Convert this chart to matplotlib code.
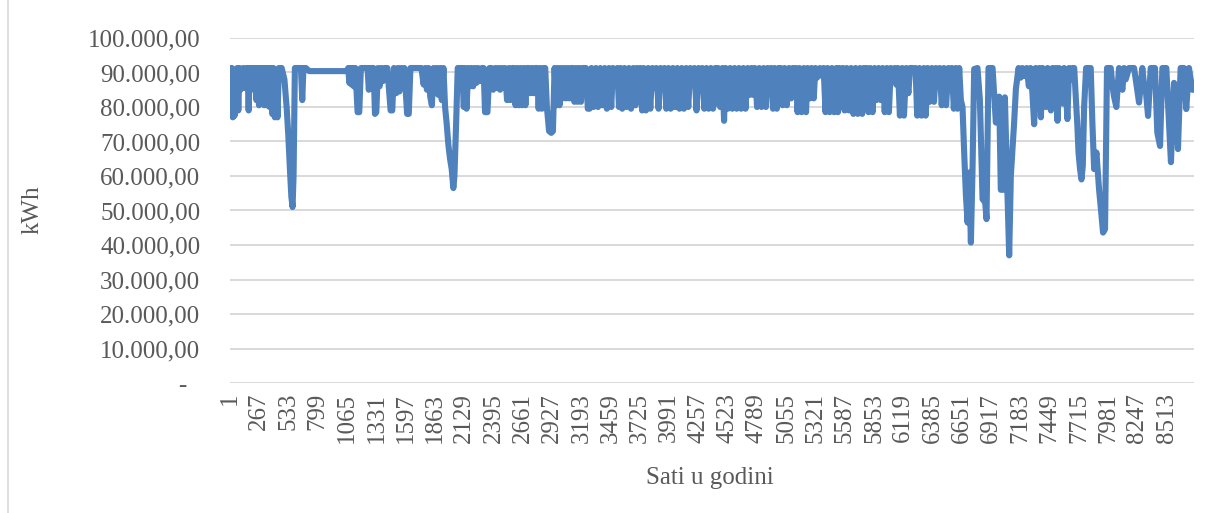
import matplotlib
matplotlib.use("Agg")
import matplotlib.pyplot as plt
from matplotlib.lines import Line2D

# hourly consumption as (hour, kWh) turning points
q1 = [(1, 91300), (10, 80500), (18, 91300), (26, 77000), (34, 90000), (42, 77500), (50, 88000),
      (58, 80500), (66, 91300), (76, 79000), (86, 91300), (96, 85000), (108, 86000), (120, 91300),
      (134, 85500), (150, 91300), (160, 91300), (170, 79000), (180, 91300), (192, 85000), (204, 91300),
      (216, 85500), (228, 91300), (240, 82000), (252, 91300), (264, 80500), (276, 91300), (288, 81000),
      (300, 91300), (312, 80500), (324, 91300), (336, 80500), (348, 91300), (360, 80000), (372, 91300),
      (384, 78000), (396, 91300), (408, 77000), (420, 88000), (432, 77000), (444, 91300), (470, 91300),
      (495, 88000), (515, 80000), (530, 72000), (545, 62000), (558, 54000), (569, 51000), (578, 60000),
      (590, 91300), (645, 91300), (657, 82000), (668, 91300), (690, 91300), (720, 90400), (1060, 90400),
      (1075, 91300), (1085, 87000), (1095, 91300), (1105, 86500), (1115, 91300), (1125, 86000),
      (1140, 91300), (1160, 78500), (1175, 78500), (1190, 91300), (1250, 91300), (1262, 85000),
      (1275, 91300), (1305, 91300), (1318, 78000), (1330, 78500), (1345, 91300), (1360, 86000),
      (1375, 91300), (1390, 87500), (1405, 91300), (1430, 91300), (1460, 79000), (1475, 79000),
      (1490, 91300), (1510, 84000), (1525, 91300), (1540, 84500), (1555, 91300), (1570, 86000),
      (1585, 91300), (1610, 78000), (1625, 78000), (1640, 91300), (1740, 91300), (1760, 86500),
      (1775, 91300), (1790, 85000), (1805, 91300), (1820, 83000), (1835, 80500), (1850, 91300),
      (1865, 84000), (1880, 91300), (1895, 83500), (1910, 91300), (1925, 82000), (1940, 91300),
      (1955, 80000), (1970, 75000), (1985, 69000), (2000, 65000), (2015, 62000), (2030, 56500),
      (2040, 60000), (2055, 75000), (2070, 91300), (2110, 91300), (2125, 80000), (2135, 91300),
      (2150, 79500)]

q2 = [(2165, 91300), (2180, 86000), (2195, 91300), (2210, 86000), (2225, 91300), (2240, 87000),
      (2255, 91300), (2270, 87500), (2290, 91300), (2305, 91300), (2318, 78500), (2340, 78500),
      (2358, 91300), (2375, 91300), (2392, 85000), (2410, 91300), (2425, 85500), (2440, 91300),
      (2455, 85000), (2470, 91300), (2485, 85500), (2500, 91300), (2518, 82000), (2535, 91300),
      (2550, 82000), (2565, 91300), (2580, 91300), (2595, 80500), (2610, 91300), (2625, 80500),
      (2640, 91300), (2655, 80500), (2670, 91300), (2685, 80500), (2700, 91300), (2715, 91300),
      (2730, 84000), (2745, 91300), (2760, 84000), (2775, 91300), (2790, 91300), (2805, 79500),
      (2820, 91300), (2835, 79500), (2850, 91300), (2865, 91300), (2880, 80000), (2900, 73000),
      (2920, 72500), (2935, 73000), (2950, 91300), (2965, 80500), (2980, 91300), (2995, 80500),
      (3010, 91300), (3025, 82500), (3040, 91300), (3055, 82500), (3070, 91300), (3085, 82500),
      (3100, 91300), (3115, 91300), (3130, 81500), (3145, 91300), (3160, 81500), (3175, 91300),
      (3190, 81500), (3205, 91300), (3235, 91300), (3252, 79500), (3268, 79500), (3285, 91300),
      (3305, 80000), (3325, 91300), (3345, 80000), (3365, 91300), (3385, 80500), (3405, 91300),
      (3425, 79500), (3445, 91300), (3465, 80000), (3480, 91300), (3488, 88000), (3512, 88000),
      (3520, 91300), (3535, 80000), (3550, 91300), (3565, 79500), (3585, 91300), (3605, 80000),
      (3625, 91300), (3645, 79500), (3665, 91300), (3685, 80500), (3698, 91300), (3704, 86500),
      (3722, 86500), (3728, 91300), (3745, 79000), (3760, 91300), (3780, 79000), (3800, 91300),
      (3820, 79500), (3838, 91300), (3846, 85500), (3866, 85500), (3874, 91300), (3895, 79500),
      (3912, 91300), (3920, 86500), (3940, 86500), (3948, 91300), (3965, 79500), (3985, 91300),
      (4005, 79500), (4025, 91300), (4045, 80000), (4065, 91300), (4085, 79500), (4105, 91300),
      (4125, 79500), (4145, 91300), (4165, 80000), (4182, 91300), (4192, 87500), (4212, 87500),
      (4220, 91300), (4240, 79000), (4258, 91300), (4266, 85500), (4284, 85500), (4292, 91300),
      (4310, 79500), (4330, 91300)]

q3 = [(4350, 79500), (4370, 91300), (4390, 79500), (4410, 91300), (4421, 81000), (4435, 91300),
      (4455, 80000), (4475, 91300), (4490, 76000), (4505, 91300), (4525, 79500), (4545, 91300),
      (4565, 79500), (4585, 91300), (4605, 79500), (4625, 91300), (4645, 79500), (4665, 91300),
      (4685, 79500), (4705, 91300), (4722, 83500), (4740, 91300), (4755, 83500), (4770, 91300),
      (4790, 80000), (4810, 91300), (4830, 80000), (4850, 91300), (4870, 80000), (4886, 91300),
      (4894, 89500), (4910, 89500), (4918, 91300), (4935, 79500), (4950, 91300), (4970, 79500),
      (4985, 91300), (4995, 85500), (5005, 91300), (5022, 80500), (5040, 91300), (5060, 80500),
      (5080, 91300), (5100, 82500), (5115, 91300), (5121, 88500), (5137, 88500), (5143, 91300),
      (5158, 78500), (5175, 91300), (5195, 78500), (5215, 91300), (5235, 78500), (5250, 91300),
      (5268, 82500), (5285, 91300), (5305, 82500), (5320, 91300), (5335, 88500), (5360, 91300),
      (5380, 89000), (5395, 91300), (5412, 78500), (5430, 91300), (5450, 78500), (5470, 91300),
      (5490, 78500), (5510, 91300), (5525, 78500), (5538, 91300), (5546, 85500), (5562, 85500),
      (5570, 91300), (5585, 79000), (5605, 91300), (5625, 79000), (5645, 91300), (5665, 78000),
      (5685, 91300), (5705, 78000), (5725, 91300), (5745, 78000), (5760, 91300), (5766, 88000),
      (5782, 88000), (5788, 91300), (5803, 78500), (5820, 91300), (5840, 78500), (5858, 91300),
      (5875, 82000), (5895, 91300), (5915, 82000), (5932, 91300), (5950, 78500), (5970, 91300),
      (5988, 78500), (6005, 91300), (6022, 87500), (6040, 91300), (6055, 86500), (6070, 91300),
      (6088, 77500), (6108, 91300), (6125, 77500), (6145, 91300), (6165, 84000), (6180, 91300),
      (6200, 91300), (6215, 90500), (6230, 91300), (6245, 77500), (6265, 91300), (6285, 77500),
      (6305, 91300), (6322, 77500), (6340, 91300), (6358, 81500), (6378, 91300), (6398, 81500),
      (6415, 91300), (6432, 86000), (6450, 91300), (6468, 80500), (6488, 91300), (6508, 80500),
      (6528, 91300), (6545, 85000)]

q4 = [(6560, 91300), (6578, 79500), (6595, 91300), (6612, 79500), (6627, 91300), (6642, 82000),
      (6657, 80000), (6673, 66000), (6688, 54300), (6703, 46500), (6718, 61000), (6733, 40700),
      (6748, 62000), (6763, 91000), (6793, 91300), (6815, 82000), (6839, 53300), (6863, 52300),
      (6875, 47500), (6893, 91300), (6930, 91300), (6960, 75500), (6990, 83000), (7005, 56000),
      (7027, 56000), (7042, 82800), (7060, 61000), (7081, 37000), (7096, 60000), (7126, 75500),
      (7142, 85200), (7166, 91300), (7185, 88500), (7200, 91300), (7220, 89000), (7240, 91300),
      (7260, 86000), (7275, 91300), (7292, 84000), (7308, 75000), (7322, 91300), (7340, 85000),
      (7355, 91300), (7369, 77000), (7385, 91300), (7400, 86000), (7414, 80000), (7430, 91300),
      (7445, 84000), (7460, 79000), (7475, 91300), (7490, 86000), (7505, 91300), (7520, 76000),
      (7535, 91300), (7550, 85000), (7565, 81000), (7580, 91300), (7595, 86000), (7610, 76500),
      (7625, 91300), (7640, 88000), (7656, 91300), (7672, 91300), (7686, 83000), (7700, 75000),
      (7711, 66800), (7725, 62000), (7738, 59000), (7750, 63000), (7762, 80000), (7780, 91300),
      (7822, 91300), (7837, 75500), (7853, 62000), (7874, 66800), (7898, 56000), (7913, 51000),
      (7934, 43600), (7952, 44600), (7970, 91300), (8004, 91300), (8020, 86000), (8034, 83000),
      (8055, 80000), (8079, 91300), (8095, 87000), (8110, 85000), (8125, 91300), (8140, 88000),
      (8170, 91300), (8216, 91300), (8240, 86000), (8261, 81300), (8291, 91300), (8305, 87000),
      (8322, 85000), (8343, 77400), (8367, 91300), (8406, 91300), (8427, 72600), (8452, 68700),
      (8473, 91300), (8509, 91300), (8533, 75500), (8551, 64000), (8579, 87000), (8594, 86000),
      (8615, 67800), (8639, 91300), (8669, 91300), (8690, 79400), (8715, 91300), (8745, 85000),
      (8760, 85000)]

y_ticks = [0, 10000, 20000, 30000, 40000, 50000, 60000, 70000, 80000, 90000, 100000]
y_labels = ["-  ", "10.000,00", "20.000,00", "30.000,00", "40.000,00", "50.000,00",
            "60.000,00", "70.000,00", "80.000,00", "90.000,00", "100.000,00"]
x_ticks = [1, 267, 533, 799, 1065, 1331, 1597, 1863, 2129, 2395, 2661, 2927, 3193, 3459,
           3725, 3991, 4257, 4523, 4789, 5055, 5321, 5587, 5853, 6119, 6385, 6651, 6917,
           7183, 7449, 7715, 7981, 8247, 8513]

points = q1 + q2 + q3 + q4
hours = [p[0] for p in points]
kwh = [p[1] for p in points]

plt.rcParams['font.family'] = ['Liberation Serif', 'DejaVu Serif']
plt.rcParams['path.simplify'] = False
grey_text = '#595959'

fig = plt.figure(figsize=(12.18, 5.13), dpi=100)
ax = fig.add_axes([230 / 1218, 1 - 383 / 513, 964 / 1218, 345 / 513])

ax.plot(hours, kwh, color='#4F81BD', lw=4.4, solid_joinstyle='round',
        solid_capstyle='round', zorder=3)

ax.set_xlim(0.5, 8760.5)
ax.set_ylim(0, 100000)
ax.set_yticks(y_ticks)
ax.set_yticklabels(y_labels)
ax.set_xticks(x_ticks)
ax.set_xticklabels([str(t) for t in x_ticks], rotation=90, va='top', ha='center')
ax.tick_params(axis='both', length=0, labelsize=18, colors=grey_text)
ax.tick_params(axis='y', pad=21.5)
ax.tick_params(axis='x', pad=7)
ax.grid(axis='y', color='#D9D9D9', lw=1.4, zorder=0)
for s in ax.spines.values():
    s.set_visible(False)

fig.text(33 / 1218, 1 - 210 / 513, 'kWh', rotation=90, ha='center', va='center',
         fontsize=18, color=grey_text)
fig.text(710 / 1218, 1 - 478 / 513, 'Sati u godini', ha='center', va='center',
         fontsize=18, color=grey_text)

# chart frame, only the left edge falls inside the crop
fig.add_artist(Line2D([8 / 1218, 8 / 1218], [0, 1], color='#D9D9D9', lw=1.2,
                      transform=fig.transFigure))

fig.savefig('out.png', dpi=100)
